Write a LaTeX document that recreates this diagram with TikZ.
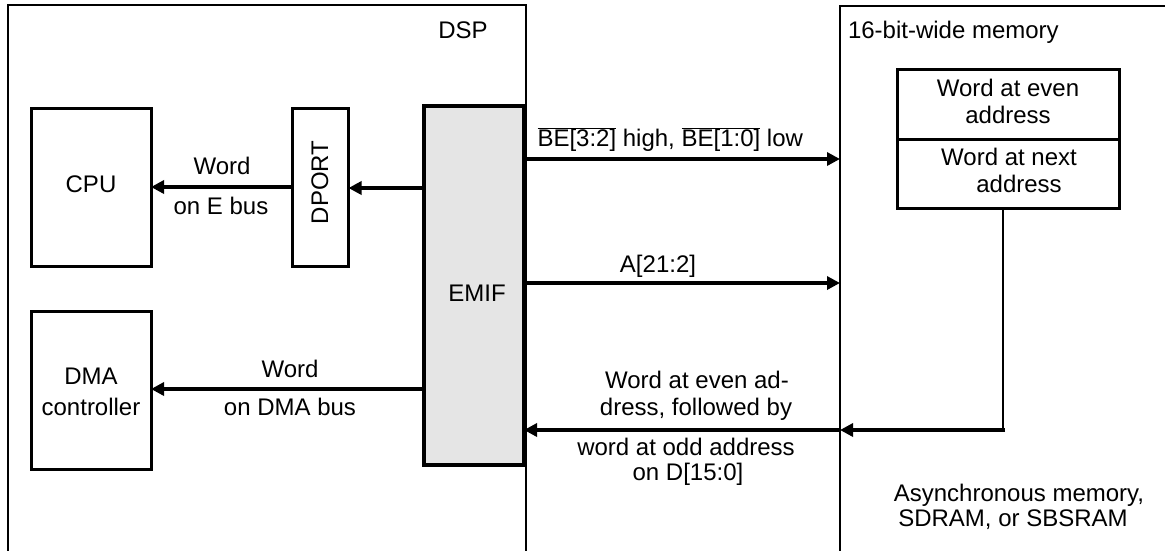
\documentclass[tikz,border=0pt]{standalone}
\usepackage{fontspec}
\setmainfont{Liberation Sans}
\usetikzlibrary{arrows.meta}
\newcommand\ovbar[1]{$\overline{\hbox{#1}}$}
\begin{document}
\begin{tikzpicture}[x=1pt,y=-1pt,
  every node/.style={inner sep=0pt, outer sep=0pt, font=\fontsize{24}{26}\selectfont},
  txt/.style={anchor=base},
  blk/.style={draw, line width=3pt},
  frame/.style={draw, line width=1.5pt, anchor=north west},
  bus/.style={line width=3.5pt, -{Triangle[length=13pt,width=13pt]}},
  tap/.style={line width=2.5pt},
]
\useasboundingbox (0,0) rectangle (1165,550);

% outer frames (open at bottom / right)
\node[frame, minimum width=518pt, minimum height=600pt] (dsp) at (8,5) {};
\node[frame, minimum width=400pt, minimum height=600pt] (mem) at (840,6) {};
\node[txt] (dspL) at (463,38.6) {DSP};
\node[anchor=base west] (memL) at (848,38) {16-bit-wide memory};

% blocks
\node[blk, minimum width=120pt, minimum height=158pt] (cpu) at (91,187) {};
\node[blk, minimum width=56pt, minimum height=158pt] (dport) at (320.5,187) {};
\node[blk, line width=4pt, fill=gray!20, minimum width=100pt, minimum height=359pt] (emif) at (474,285.5) {};
\node[blk, minimum width=120pt, minimum height=158pt] (dma) at (91,390) {};
\node[blk, minimum width=222pt, minimum height=70pt] (cellA) at (1008.5,104) {};
\node[blk, minimum width=222pt, minimum height=69pt] (cellB) at (1008.5,173.5) {};

% block texts
\node[txt] (cpuL) at (91,192.7) {CPU};
\node[txt, rotate=90] (dportL) at (328,182.5) {DPORT};
\node[txt] (emifL) at (477,301.5) {EMIF};
\node[txt] (dmaL1) at (91,384) {DMA};
\node[txt] (dmaL2) at (91,415) {controller};
\node[txt] (cellA1) at (1008,96.7) {Word at even};
\node[txt] (cellA2) at (1008,123.3) {address};
\node[txt] (cellB1) at (1009,165) {Word at next};
\node[txt] (cellB2) at (1019,192.7) {address};
\node[txt] (memT1) at (1019,501.7) {Asynchronous memory,};
\node[txt] (memT2) at (1013,526.7) {SDRAM, or SBSRAM};

% y levels
\coordinate (yE) at (0,188);
\coordinate (yBE) at (0,159);
\coordinate (yA) at (0,283);
\coordinate (yDMA) at (0,389);
\coordinate (yD) at (0,430);
\coordinate (tapTop) at (1003,208);

% connectors
\draw[bus] (dport.west |- cpu.east) -- (cpu.east);
\draw[bus] (emif.west |- yE) -- (dport.east |- yE);
\draw[bus] (emif.west |- yDMA) -- (dma.east |- yDMA);
\draw[bus] (emif.east |- yBE) -- (mem.west |- yBE);
\draw[bus] (emif.east |- yA) -- (mem.west |- yA);
\draw[tap] (tapTop) -- (tapTop |- yD);
\coordinate (tapBot) at (1005,430);
\draw[bus] (tapBot) -- (mem.west |- yD);
\draw[bus] (mem.west |- yD) -- (emif.east |- yD);

% connector labels
\node[txt] (eL1) at (222,174) {Word};
\node[txt] (eL2) at (221,214) {on E bus};
\node[txt] (dmaW1) at (290,377.3) {Word};
\node[txt] (dmaW2) at (290,415.7) {on DMA bus};
\node[anchor=base west] (beL) at (537.5,146.7) {\ovbar{BE[3:2]} high, \ovbar{BE[1:0]} low};
\node[txt] (aL) at (658,272) {A[21:2]};
\node[txt] (dL1) at (697,388.3) {Word at even ad-};
\node[txt] (dL2) at (696,415) {dress, followed by};
\node[txt] (dL3) at (686,455) {word at odd address};
\node[txt] (dL4) at (688,480.7) {on D[15:0]};
\end{tikzpicture}
\end{document}
